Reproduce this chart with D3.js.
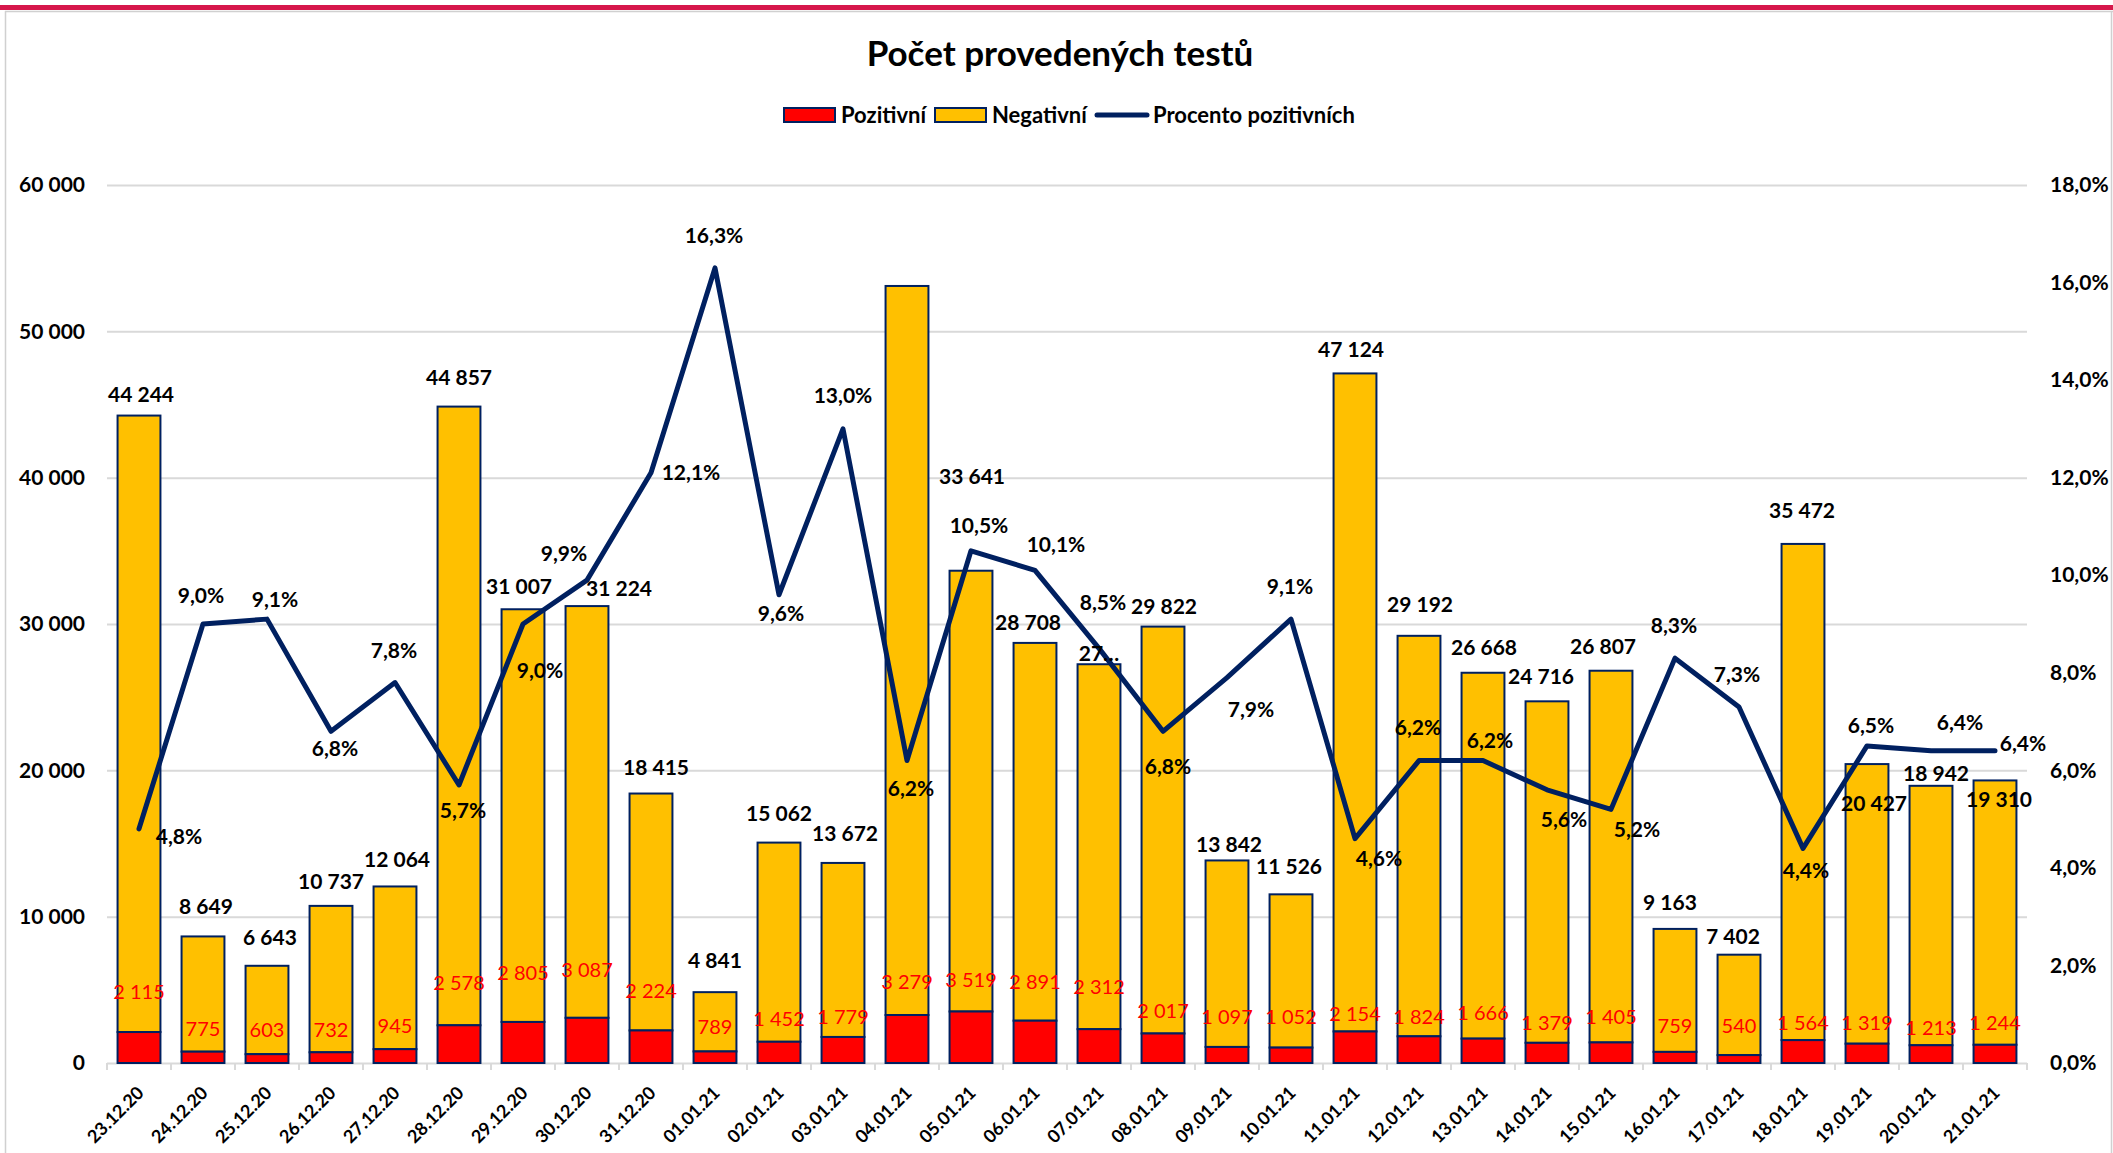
<!DOCTYPE html>
<html>
<head>
<meta charset="utf-8">
<script src="https://cdn.jsdelivr.net/npm/d3@7"></script>
<style>
  body { margin: 0; background: #fff; }
  svg text { font-family: Lato, "Open Sans", sans-serif; }
  .tot, .pct, .axl { font-weight: bold; fill: #000; }
</style>
</head>
<body>
<svg id="chart"></svg>
<script>
// data
const dates = ['23.12.20','24.12.20','25.12.20','26.12.20','27.12.20','28.12.20','29.12.20','30.12.20','31.12.20',
  '01.01.21','02.01.21','03.01.21','04.01.21','05.01.21','06.01.21','07.01.21','08.01.21','09.01.21','10.01.21',
  '11.01.21','12.01.21','13.01.21','14.01.21','15.01.21','16.01.21','17.01.21','18.01.21','19.01.21','20.01.21','21.01.21'];
const positive = [2115, 775, 603, 732, 945, 2578, 2805, 3087, 2224,
  789, 1452, 1779, 3279, 3519, 2891, 2312, 2017, 1097, 1052,
  2154, 1824, 1666, 1379, 1405, 759, 540, 1564, 1319, 1213, 1244];
const total = [44244, 8649, 6643, 10737, 12064, 44857, 31007, 31224, 18415,
  4841, 15062, 13672, 53100, 33641, 28708, 27250, 29822, 13842, 11526,
  47124, 29192, 26668, 24716, 26807, 9163, 7402, 35472, 20427, 18942, 19310];
const percent = [4.8, 9.0, 9.1, 6.8, 7.8, 5.7, 9.0, 9.9, 12.1,
  16.3, 9.6, 13.0, 6.2, 10.5, 10.1, 8.5, 6.8, 7.9, 9.1,
  4.6, 6.2, 6.2, 5.6, 5.2, 8.3, 7.3, 4.4, 6.5, 6.4, 6.4];
const leftTicks = [0, 10000, 20000, 30000, 40000, 50000, 60000];
const rightTicks = [0, 2, 4, 6, 8, 10, 12, 14, 16, 18];
const series = ['Pozitivní', 'Negativní', 'Procento pozitivních'];
const title = 'Počet provedených testů';
// total label shown differently in the original
const hiddenTotal = ['04.01.21'];
const clippedTotal = {'07.01.21': '27…'};

// hand placed label nudges (dx, dy from the anchor point), as in the original sheet
const totNudge = [[2,-21],[3,-30],[3,-28],[0,-24],[2,-27],[0,-29],[-4,-23],[32,-18],[5,-26],
  [0,-32],[0,-29],[2,-29],[0,0],[1,-94],[-7,-20],[0,-11],[1,-20],[2,-16],[-2,-28],
  [-4,-24],[1,-31],[1,-25],[-6,-25],[-8,-24],[-5,-26],[-6,-18],[-1,-33],[7,39],[5,-12],[4,19]];
const posNudge = [-40,-23,-24,-22,-23,-42,-49,-48,-40,-25,-23,-20,-33,-32,-39,-42,-23,-30,-31,
  -18,-20,-26,-20,-26,-26,-29,-17,-21,-17,-22];
const pctNudge = [[40,8],[-2,-29],[8,-20],[4,17],[-1,-32],[4,25],[17,46],[-23,-27],[40,0],
  [-1,-32],[2,19],[0,-33],[4,28],[8,-25],[21,-26],[4,-46],[5,35],[24,32],[-1,-33],
  [24,20],[-1,-33],[7,-20],[17,30],[26,20],[-1,-33],[-2,-32],[3,22],[4,-21],[29,-28],[28,-7]];

const W = 2113, H = 1153;
const plotL = 107, plotR = 2027, plotT = 185, plotB = 1063;
const navy = '#002060', yellow = '#FFC000', red = '#FF0000', grid = '#d9d9d9';

const loc = d3.formatLocale({decimal: ',', thousands: '\u00a0', grouping: [3], currency: ['', '']});
const numFmt = loc.format(',d');
const pctFmt = v => loc.format('.1f')(v) + '%';

const svg = d3.select('#chart').attr('width', W).attr('height', H);

// frame
svg.append('rect').attr('x', 0).attr('y', 5).attr('width', W).attr('height', 5).attr('fill', '#d6174b');
svg.append('line').attr('x1', 5).attr('x2', W).attr('y1', 11.5).attr('y2', 11.5).attr('stroke', '#d0d0d0').attr('stroke-width', 1.5);
svg.append('line').attr('x1', 5.5).attr('x2', 5.5).attr('y1', 11).attr('y2', H).attr('stroke', '#d0d0d0').attr('stroke-width', 1.5);
svg.append('line').attr('x1', 2111.5).attr('x2', 2111.5).attr('y1', 11).attr('y2', H).attr('stroke', '#d0d0d0').attr('stroke-width', 1.5);

let x = d3.scaleBand().domain(dates).range([plotL, plotR]).paddingInner(0.33).paddingOuter(0.165);
let y = d3.scaleLinear().domain([0, 60000]).range([plotB, plotT]);
let yp = d3.scaleLinear().domain([0, 18]).range([plotB, plotT]);
let bw = x.bandwidth();
let cx = d => x(d) + bw / 2;

// left axis + gridlines
let gl = svg.append('g').attr('transform', `translate(${plotL},0)`)
  .call(d3.axisLeft(y).tickValues(leftTicks).tickSize(-(plotR - plotL)).tickPadding(22).tickFormat(numFmt));
gl.select('.domain').remove();
gl.selectAll('.tick line').attr('stroke', grid).attr('stroke-width', 2);
gl.selectAll('.tick text').attr('class', 'axl').style('font-size', '21px');

// right axis
let gr = svg.append('g').attr('transform', `translate(${plotR + 23},0)`)
  .call(d3.axisRight(yp).tickValues(rightTicks).tickSize(0).tickPadding(0).tickFormat(pctFmt));
gr.select('.domain').remove();
gr.selectAll('.tick text').attr('class', 'axl').style('font-size', '21px');

// category ticks
let bounds = d3.range(dates.length + 1).map(i => plotL + i * x.step());
svg.append('g').selectAll('line').data(bounds).join('line')
  .attr('x1', d => d).attr('x2', d => d).attr('y1', plotB).attr('y2', plotB + 7)
  .attr('stroke', grid).attr('stroke-width', 2);

svg.append('g').selectAll('text').data(dates).join('text')
  .attr('class', 'axl')
  .attr('text-anchor', 'end')
  .style('font-size', '18px')
  .attr('transform', d => `translate(${cx(d) + 6},${plotB + 31}) rotate(-45)`)
  .text(d => d);

// stacked bars
let rows = dates.map((d, i) => ({date: d, pos: positive[i], tot: total[i], pct: percent[i], i: i}));
let bars = svg.append('g');
bars.selectAll('.neg').data(rows).join('rect')
  .attr('x', d => x(d.date)).attr('width', bw)
  .attr('y', d => y(d.tot)).attr('height', d => y(d.pos) - y(d.tot))
  .attr('fill', yellow).attr('stroke', navy).attr('stroke-width', 2);
bars.selectAll('.pos').data(rows).join('rect')
  .attr('x', d => x(d.date)).attr('width', bw)
  .attr('y', d => y(d.pos)).attr('height', d => y(0) - y(d.pos))
  .attr('fill', red).attr('stroke', navy).attr('stroke-width', 2);

// percent line
let line = d3.line().x(d => cx(d.date)).y(d => yp(d.pct));
svg.append('path').datum(rows).attr('d', line)
  .attr('fill', 'none').attr('stroke', navy).attr('stroke-width', 5)
  .attr('stroke-linejoin', 'round').attr('stroke-linecap', 'round');

// labels
svg.append('g').selectAll('text').data(rows.filter(d => !hiddenTotal.includes(d.date))).join('text')
  .attr('class', 'tot').attr('text-anchor', 'middle').attr('dy', '0.36em').style('font-size', '21px')
  .attr('x', d => cx(d.date) + totNudge[d.i][0])
  .attr('y', d => y(d.tot) + totNudge[d.i][1])
  .text(d => clippedTotal[d.date] || numFmt(d.tot));

svg.append('g').selectAll('text').data(rows).join('text')
  .attr('text-anchor', 'middle').attr('dy', '0.36em').style('font-size', '20px').attr('fill', red)
  .attr('x', d => cx(d.date))
  .attr('y', d => y(d.pos) + posNudge[d.i])
  .text(d => numFmt(d.pos));

svg.append('g').selectAll('text').data(rows).join('text')
  .attr('class', 'pct').attr('text-anchor', 'middle').attr('dy', '0.36em').style('font-size', '21px')
  .attr('x', d => cx(d.date) + pctNudge[d.i][0])
  .attr('y', d => yp(d.pct) + pctNudge[d.i][1])
  .text(d => pctFmt(d.pct));

// title
svg.append('text').attr('x', 1060).attr('y', 66).attr('text-anchor', 'middle')
  .style('font-size', '35px').style('font-weight', 'bold').text(title);

// legend
let lg = svg.append('g').attr('transform', 'translate(0,115)');
let swatches = [{x: 784, fill: red, label: series[0]}, {x: 935, fill: yellow, label: series[1]}];
swatches.forEach(s => {
  lg.append('rect').attr('x', s.x).attr('y', -7).attr('width', 51).attr('height', 14)
    .attr('fill', s.fill).attr('stroke', navy).attr('stroke-width', 2);
  lg.append('text').attr('x', s.x + 57).attr('dy', '0.36em').style('font-size', '22px')
    .style('font-weight', 'bold').text(s.label);
});
lg.append('line').attr('x1', 1097).attr('x2', 1147).attr('stroke', navy).attr('stroke-width', 5).attr('stroke-linecap', 'round');
lg.append('text').attr('x', 1153).attr('dy', '0.36em').style('font-size', '22px')
  .style('font-weight', 'bold').text(series[2]);
</script>
</body>
</html>
